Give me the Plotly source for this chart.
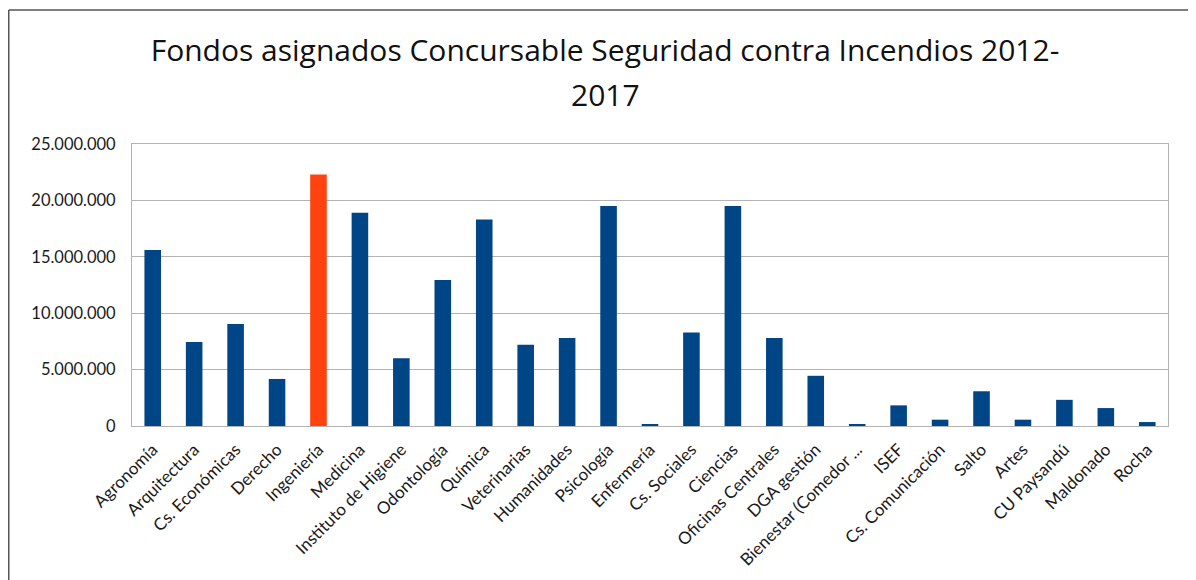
import plotly.graph_objects as go

categories = ["Agronomía", "Arquitectura", "Cs. Económicas", "Derecho", "Ingeniería",
              "Medicina", "Instituto de Higiene", "Odontología", "Química", "Veterinarias",
              "Humanidades", "Psicología", "Enfermería", "Cs. Sociales", "Ciencias",
              "Oficinas Centrales", "DGA gestión", "Bienestar (Comedor ...", "ISEF",
              "Cs. Comunicación", "Salto", "Artes", "CU Paysandú", "Maldonado", "Rocha"]
values = [15600000, 7450000, 9050000, 4170000, 22300000,
          18900000, 6000000, 12950000, 18300000, 7200000,
          7800000, 19500000, 180000, 8300000, 19500000,
          7800000, 4450000, 180000, 1830000,
          560000, 3080000, 560000, 2320000, 1590000, 350000]
highlight = "Ingeniería"
y_ticks = [0, 5000000, 10000000, 15000000, 20000000, 25000000]
title_line1 = "Fondos asignados Concursable Seguridad contra Incendios 2012-"
title_line2 = "2017"

BLUE = "#004586"
ORANGE = "#FF420E"
colors = [ORANGE if c == highlight else BLUE for c in categories]

fig = go.Figure(go.Bar(
    x=categories, y=values, marker=dict(color=colors, line=dict(width=0)),
    hoverinfo="x+y"))

# page has an 8px body margin; figure sized to fit the 1196x580 window
W, H = 1188, 572
L, R, T, B = 124, 28, 136, 154
pw, ph = W - L - R, H - T - B

TITLE_FONT = dict(family="Open Sans, Lato, sans-serif", size=30, color="#111111")

fig.update_layout(
    width=W, height=H,
    margin=dict(l=L, r=R, t=T, b=B),
    paper_bgcolor="white", plot_bgcolor="white",
    separators=",.",
    bargap=0.6,
    showlegend=False,
    font=dict(family="Lato, Carlito, sans-serif", color="#1a1a1a"),
    title=dict(text=title_line1, x=597 / W, xanchor="center",
               y=1 - 42 / H, yanchor="middle", font=TITLE_FONT),
    annotations=[dict(text=title_line2, xref="paper", yref="paper",
                      x=(597 - L) / pw, y=(H - B - 86) / ph,
                      xanchor="center", yanchor="middle", showarrow=False,
                      font=TITLE_FONT)],
    xaxis=dict(tickangle=-45, tickfont=dict(size=17), showgrid=False,
               showline=True, linecolor="#b3b3b3", linewidth=1, mirror=True,
               ticks="", automargin=False, ticklabelstandoff=6),
    yaxis=dict(range=[0, 25000000], tickvals=y_ticks, tickformat=",d",
               tickfont=dict(size=16.5), showgrid=True, gridcolor="#b3b3b3",
               gridwidth=1, showline=True, linecolor="#b3b3b3", linewidth=1,
               mirror=True, ticks="", zeroline=False, automargin=False,
               ticklabelstandoff=12),
    shapes=[
        dict(type="line", xref="paper", yref="paper",
             x0=(0.75 - L) / pw, x1=(W - L) / pw,
             y0=(H - B - 2) / ph, y1=(H - B - 2) / ph,
             line=dict(color="#555555", width=1.5)),
        dict(type="line", xref="paper", yref="paper",
             x0=(0.75 - L) / pw, x1=(0.75 - L) / pw,
             y0=(H - B - 2) / ph, y1=-B / ph,
             line=dict(color="#555555", width=1.5)),
    ],
)

fig.write_html("out.html")
